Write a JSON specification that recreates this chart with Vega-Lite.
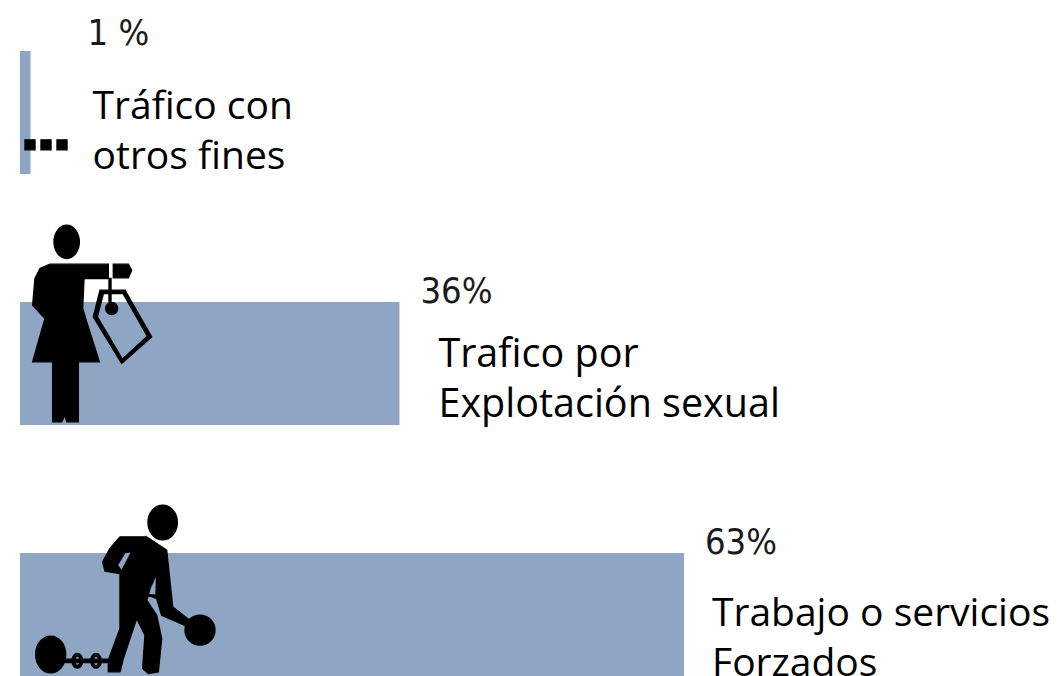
{
"$schema":"https://vega.github.io/schema/vega-lite/v6.json",
"width":1039,"height":676,"autosize":"none","padding":{"left":20,"top":0,"right":0,"bottom":0},
"background":"white",
"config":{"view":{"stroke":null}},
"data":{"values":[
{"categoria":"Tráfico con otros fines","pct":1,"pct_label":"1 %","label":"Tráfico con\notros fines"},
{"categoria":"Trafico por Explotación sexual","pct":36,"pct_label":"36%","label":"Trafico por\nExplotación sexual"},
{"categoria":"Trabajo o servicios Forzados","pct":63,"pct_label":"63%","label":"Trabajo o servicios\nForzados"}
]},
"encoding":{
"y":{"field":"categoria","type":"nominal","axis":null,"sort":null,"scale":{"domain":["Tráfico con otros fines","Trafico por Explotación sexual","Trabajo o servicios Forzados"],"range":[51,676],"paddingInner":0.51,"paddingOuter":0}},
"x":{"field":"pct","type":"quantitative","axis":null,"scale":{"domain":[0,98.58],"nice":false,"zero":false}}
},
"layer":[
{"mark":{"type":"bar","color":"#8fa5c4","cornerRadius":0}},
{"mark":{"type":"point","filled":true,"color":"#000000","stroke":"#000000","opacity":1,"size":0.4444,"strokeWidth":1.4},
 "encoding":{"x":{"datum":0},
 "shape":{"field":"categoria","type":"nominal","legend":null,"scale":{"domain":["Tráfico con otros fines","Trafico por Explotación sexual","Trabajo o servicios Forzados"],"range":[
 "M15,82 L45,82 L45,112 L15,112 Z M63,82 L93,82 L93,112 L63,112 Z M111,82 L141,82 L141,112 L111,112 Z",
 "M102,-365 A38,50 0 1,1 178,-365 A38,50 0 1,1 102,-365 Z M90,-298 L265,-298 L265,-255 L192,-255 L188,-165 L200,-125 L238,-5 L175,-5 L175,175 L140,175 L135,155 L125,175 L98,175 L98,-5 L38,-5 L75,-135 L38,-175 L45,-255 L60,-285 Z M280,-298 L325,-298 L335,-280 L325,-257 L280,-257 Z M267,-255 L273,-255 L273,-165 L267,-165 Z M257,-165 A18,18 0 1,1 293,-165 A18,18 0 1,1 257,-165 Z M240,-220 L315,-220 L395,-80 L305,0 L220,-140 Z M250,-210 L232,-140 L307,-13 L382,-82 L309,-210 Z",
 "M384,-276 A44,52 0 1,1 472,-276 A44,52 0 1,1 384,-276 Z M300,-233 L380,-233 L440,-193 L450,-98 L458,-23 L515,22 L505,37 L425,2 L410,-48 L385,-58 L380,-43 L410,2 L425,72 L415,172 L385,177 L368,162 L375,62 L350,12 L310,132 L300,172 L265,172 L265,137 L300,42 L300,-123 L255,-130 L248,-158 L270,-198 Z M335,-188 L315,-186 L292,-148 L305,-130 Z M410,-123 L390,-78 L385,-60 L408,-58 Z M495,47 A45,45 0 1,1 585,47 A45,45 0 1,1 495,47 Z M47,120 A45,55 0 1,1 137,120 A45,55 0 1,1 47,120 Z M135,134 L265,134 L265,144 L135,144 Z M156,139 A16,22 0 1,1 188,139 A16,22 0 1,1 156,139 Z M164,139 A8,14 0 1,0 180,139 A8,14 0 1,0 164,139 Z M212,139 A16,22 0 1,1 244,139 A16,22 0 1,1 212,139 Z M220,139 A8,14 0 1,0 236,139 A8,14 0 1,0 220,139 Z"
 ]}}}},
{"transform":[{"filter":"datum.pct==1"}],"mark":{"type":"text","align":"left","baseline":"middle","font":"DejaVu Sans Condensed","fontSize":36,"color":"#1a1a1a","dx":57,"dy":-78},"encoding":{"text":{"field":"pct_label"}}},
{"transform":[{"filter":"datum.pct>1"}],"mark":{"type":"text","align":"left","baseline":"middle","font":"DejaVu Sans Condensed","fontSize":36,"color":"#1a1a1a","dx":21,"dy":-72},"encoding":{"text":{"field":"pct_label"}}},
{"transform":[{"filter":"datum.pct==1"}],"mark":{"type":"text","align":"left","baseline":"middle","font":"Open Sans","fontSize":39,"color":"#000000","lineBreak":"\n","lineHeight":50,"dx":62,"dy":-5},"encoding":{"text":{"field":"label"}}},
{"transform":[{"filter":"datum.pct==36"}],"mark":{"type":"text","align":"left","baseline":"middle","font":"Open Sans","fontSize":39.5,"color":"#000000","lineBreak":"\n","lineHeight":50,"dx":39,"dy":-9},"encoding":{"text":{"field":"label"}}},
{"transform":[{"filter":"datum.pct==63"}],"mark":{"type":"text","align":"left","baseline":"middle","font":"Open Sans","fontSize":39,"color":"#000000","lineBreak":"\n","lineHeight":50,"dx":28,"dy":-0.5},"encoding":{"text":{"field":"label"}}}
]
}
